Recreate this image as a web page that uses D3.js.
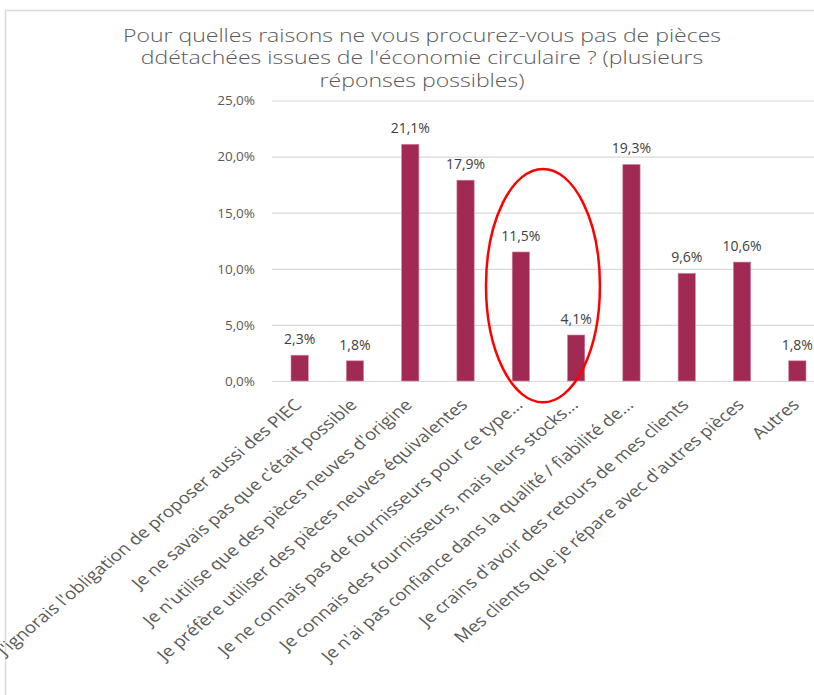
<!DOCTYPE html>
<html>
<head>
<meta charset="utf-8">
<script src="https://cdn.jsdelivr.net/npm/d3@7"></script>
<style>
  body { margin: 0; background: #fff; }
  text { font-family: "Open Sans", sans-serif; }
</style>
</head>
<body>
<div id="chart"></div>
<script>
// chart data
const categories = [
  "J'ignorais l'obligation de proposer aussi des PIEC",
  "Je ne savais pas que c'était possible",
  "Je n'utilise que des pièces neuves d'origine",
  "Je préfère utiliser des pièces  neuves équivalentes",
  "Je ne connais pas de fournisseurs pour ce type...",
  "Je connais des fournisseurs, mais leurs stocks...",
  "Je n'ai pas confiance dans la qualité / fiabilité de...",
  "Je crains d'avoir des retours de mes clients",
  "Mes clients que je répare avec d'autres pièces",
  "Autres"
];
const values = [2.3, 1.8, 21.1, 17.9, 11.5, 4.1, 19.3, 9.6, 10.6, 1.8];
const yTicks = [0, 5, 10, 15, 20, 25];
const titleLines = [
  "Pour quelles raisons ne vous procurez-vous pas de pièces",
  "ddétachées issues de l'économie circulaire ? (plusieurs",
  "réponses possibles)"
];

const width = 814, height = 695;
const margin = { top: 100.5, right: -11, bottom: 314, left: 272 };
const stretch = 1.19; // the picture is a bit wider than tall
const fmt = v => d3.format(".1f")(v).replace(".", ",") + "%";

const svg = d3.select("#chart")
  .append("svg")
  .attr("width", width)
  .attr("height", height);

// chart frame (only top and left visible)
svg.append("rect")
  .attr("x", 5.5).attr("y", 10.5)
  .attr("width", width + 20).attr("height", height + 20)
  .attr("fill", "#fff")
  .attr("stroke", "#d9d9d9")
  .attr("stroke-width", 1.5);

// title
const title = svg.append("g")
  .attr("transform", "translate(422,0) scale(1.28,1)");
title.selectAll("text")
  .data(titleLines)
  .join("text")
  .attr("x", 0)
  .attr("y", (d, i) => 42 + i * 22.5)
  .attr("text-anchor", "middle")
  .attr("font-size", 18)
  .attr("font-weight", 300)
  .attr("fill", "#595959")
  .text(d => d);

const x = d3.scaleBand()
  .domain(categories)
  .range([margin.left, width - margin.right]);
const y = d3.scaleLinear()
  .domain([0, 25])
  .range([height - margin.bottom, margin.top]);

// y axis with gridlines
const yAxis = svg.append("g")
  .attr("transform", `translate(${margin.left},0)`)
  .call(d3.axisLeft(y)
    .tickValues(yTicks)
    .tickSize(-(x.range()[1] - x.range()[0]))
    .tickPadding(17)
    .tickFormat(fmt));
yAxis.select(".domain").remove();
yAxis.selectAll("line").attr("stroke", "#d9d9d9").attr("stroke-width", 1.2);
yAxis.selectAll("text")
  .attr("fill", "#595959")
  .attr("font-size", 13.5)
  .style("font-family", "Open Sans, sans-serif");

// bars
const barW = x.bandwidth() * 0.313;
const cx = d => x(d) + x.bandwidth() / 2;
const rows = categories.map((c, i) => ({ cat: c, value: values[i] }));

svg.append("g")
  .selectAll("rect")
  .data(rows)
  .join("rect")
  .attr("x", d => cx(d.cat) - barW / 2)
  .attr("y", d => y(d.value))
  .attr("width", barW)
  .attr("height", d => y(0) - y(d.value))
  .attr("fill", "#A12A55")
  .attr("stroke", "#d38aa5")
  .attr("stroke-width", 0.6);

// data labels
svg.append("g")
  .selectAll("text")
  .data(rows)
  .join("text")
  .attr("x", d => cx(d.cat))
  .attr("y", d => y(d.value) - 11)
  .attr("text-anchor", "middle")
  .attr("font-size", 14)
  .attr("fill", "#404040")
  .text(d => fmt(d.value));

// category labels (rotated, stretched like the original picture)
svg.append("g")
  .selectAll("text")
  .data(rows)
  .join("text")
  .attr("transform", d => `translate(${cx(d.cat) + 3},${y(0) + 25}) scale(${stretch},1) rotate(-45)`)
  .attr("text-anchor", "end")
  .attr("font-size", 15.8)
  .attr("fill", "#595959")
  .text(d => d.cat);

// red annotation ellipse around two bars
const step = x.step();
svg.append("ellipse")
  .attr("cx", (cx(categories[4]) + cx(categories[5])) / 2 - step * 0.1)
  .attr("cy", y(8.5))
  .attr("rx", step * 1.03)
  .attr("ry", y(0) - y(10.4))
  .attr("fill", "none")
  .attr("stroke", "#ff0000")
  .attr("stroke-width", 2.5);
</script>
</body>
</html>
